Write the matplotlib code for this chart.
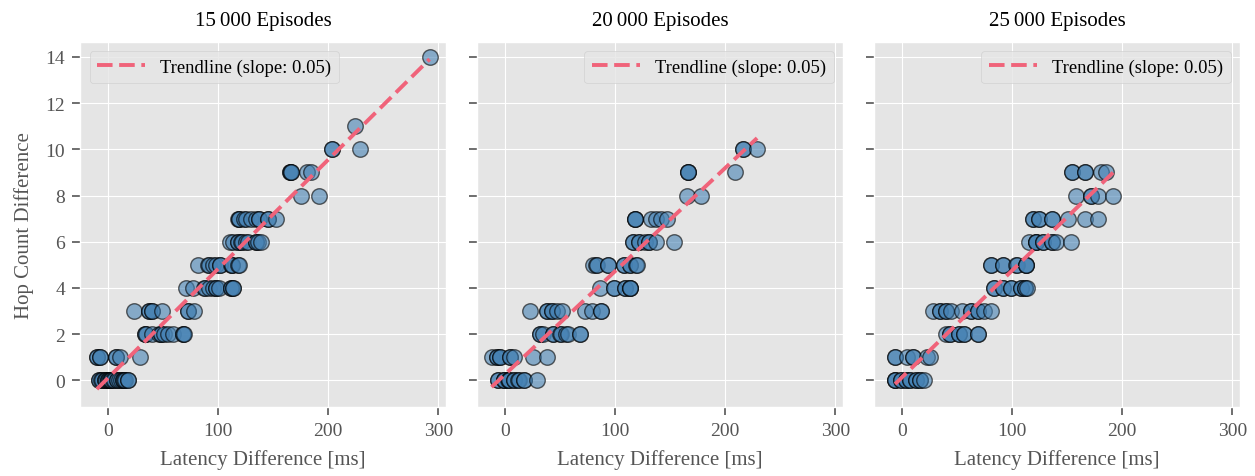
import numpy as np
import matplotlib.pyplot as plt

plt.style.use("ggplot")
plt.rcParams["font.family"] = ["Liberation Serif", "DejaVu Serif"]

# latency differences [ms] per hop count difference (index = hop count difference)
lat_15k = [
    [-8, -8, -6, -5, -3, -3, -2, 0, 0, 1, 2, 3, 3, 5, 6, 8, 8, 10, 12, 14, 14, 15, 16, 18, 18],
    [-10, -10, -7, -7, 7, 7, 11, 29],
    [34, 34, 35, 40, 46, 48, 48, 51, 55, 59, 68, 68, 69],
    [24, 37, 37, 40, 40, 49, 73, 73, 78],
    [71, 77, 87, 88, 92, 95, 98, 98, 101, 112, 112, 114, 114],
    [82, 91, 92, 95, 98, 102, 102, 112, 113, 113, 118, 119],
    [111, 114, 118, 118, 121, 122, 125, 127, 134, 134, 136, 139],
    [118, 119, 119, 124, 125, 130, 134, 137, 137, 145, 145, 153],
    [175, 192],
    [165, 165, 166, 166, 181, 184],
    [203, 203, 229],
    [224],
    [],
    [],
    [292],
]

lat_20k = [
    [-6, -6, -1, -1, -1, 3, 4, 4, 8, 8, 12, 13, 17, 17, 29],
    [-12, -7, -7, -4, -4, 5, 5, 8, 26, 38],
    [32, 32, 35, 44, 44, 50, 51, 56, 57, 68, 68],
    [23, 38, 38, 43, 43, 47, 52, 73, 79, 87, 87],
    [86, 99, 99, 109, 109, 114, 114, 114],
    [80, 83, 84, 94, 94, 108, 108, 114, 114, 119, 120],
    [116, 116, 122, 122, 127, 131, 131, 137, 154],
    [118, 118, 118, 133, 137, 142, 147],
    [165, 178],
    [166, 166, 166, 209],
    [216, 216, 229],
]

lat_25k = [
    [-6, -6, -6, -1, -1, 4, 4, 8, 8, 13, 13, 17, 17, 20],
    [-6, -6, 5, 10, 10, 23, 26],
    [40, 44, 44, 52, 52, 57, 57, 69, 69],
    [28, 35, 35, 40, 40, 45, 55, 63, 63, 69, 69, 75, 81],
    [84, 84, 92, 92, 99, 99, 108, 108, 112, 112, 114],
    [81, 81, 92, 92, 104, 105, 113, 113, 113],
    [116, 122, 122, 122, 128, 128, 136, 136, 140, 154],
    [119, 119, 125, 125, 136, 136, 151, 166, 178],
    [158, 172, 172, 178, 192],
    [155, 155, 166, 166, 181, 185],
]

# slopes as printed in the legends
slope_labels = [0.05, 0.05, 0.05]
titles = ["15\u2009000 Episodes", "20\u2009000 Episodes", "25\u2009000 Episodes"]
legend_locs = ["upper left", "upper right", "upper right"]

fig, axes = plt.subplots(1, 3, figsize=(12.55, 4.77), dpi=100, sharex=True, sharey=True)
fig.subplots_adjust(left=0.064, right=0.988, bottom=0.145, top=0.91, wspace=0.085)

for ax, rows, title, loc, lab in zip(axes, [lat_15k, lat_20k, lat_25k], titles, legend_locs, slope_labels):
    x = np.array([v for row in rows for v in row], dtype=float)
    y = np.array([h for h, row in enumerate(rows) for _ in row], dtype=float)
    ax.scatter(x, y, s=125, color="steelblue", alpha=0.6, edgecolor="black", linewidth=1.0, zorder=2)

    slope, intercept = np.polyfit(x, y, 1)
    xs = np.array([x.min(), x.max()])
    ax.plot(xs, slope * xs + intercept, color="#f0637a", linestyle="--", linewidth=2.8,
            dashes=(4, 1.7), label=f"Trendline (slope: {lab:.2f})", zorder=3)

    ax.set_title(title, fontsize=15, color="black", pad=12)
    ax.set_xlabel("Latency Difference [ms]", fontsize=15, color="#555555", labelpad=7)
    ax.legend(loc=loc, fontsize=13.4, handlelength=2.6)
    ax.tick_params(labelsize=14, length=6, width=1.2, pad=5)

axes[0].set_ylabel("Hop Count Difference", fontsize=15, color="#555555", labelpad=8)
axes[0].set_xlim(-25, 307)
axes[0].set_ylim(-1.15, 14.65)
axes[0].set_xticks([0, 100, 200, 300])
axes[0].set_yticks(range(0, 15, 2))

plt.savefig("out.png", dpi=100)
